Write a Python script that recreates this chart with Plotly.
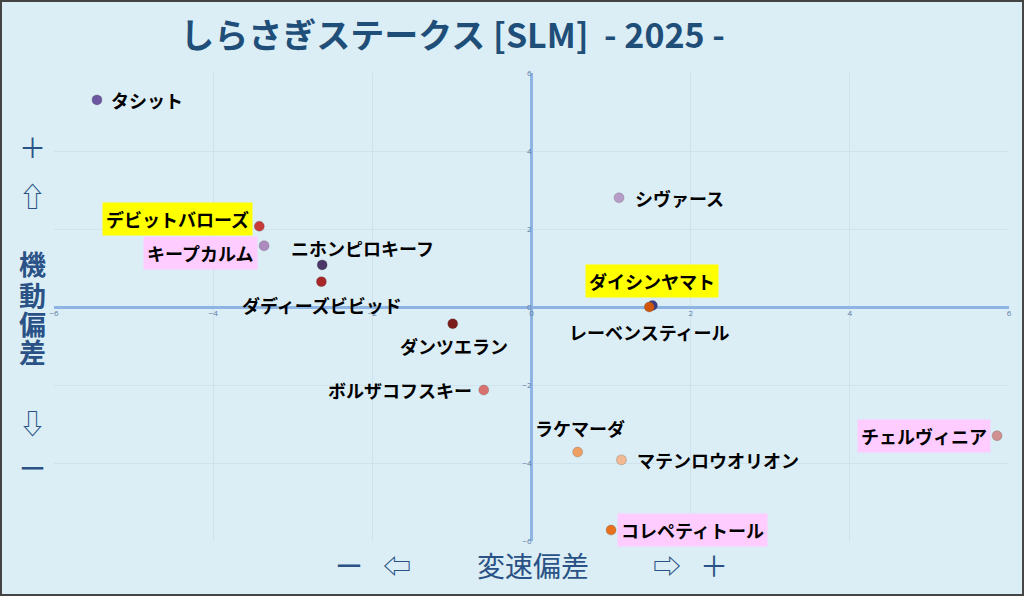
import plotly.graph_objects as go

# 変速偏差 (x) / 機動偏差 (y)
horses = ["タシット", "デビットバローズ", "キープカルム", "ニホンピロキーフ", "ダディーズビビッド",
          "ダンツエラン", "ボルザコフスキー", "シヴァース", "ダイシンヤマト", "レーベンスティール",
          "ラケマーダ", "マテンロウオリオン", "コレペティトール", "チェルヴィニア"]
speed_dev = [-5.46, -3.42, -3.36, -2.63, -2.64, -0.99, -0.60, 1.10, 1.52, 1.48, 0.58, 1.13, 1.00, 5.85]
agility_dev = [5.31, 2.07, 1.57, 1.08, 0.65, -0.43, -2.13, 2.80, 0.04, 0.00, -3.72, -3.92, -5.72, -3.30]
colors = ["#6b56a0", "#c83a3a", "#ad8bbf", "#4b3868", "#a8282a", "#7c1c1c", "#d8726e", "#b89cc8",
          "#3b3c86", "#d0560e", "#eea064", "#f2b891", "#e8711e", "#d0908f"]
label_bg = [None, "#ffff00", "#ffccff", None, None, None, None, None,
            "#ffff00", None, None, None, "#ffccff", "#ffccff"]

# label placement (anchor, xshift px, yshift px)
label_place = [("left", 10, 0), ("right", -6, 7), ("right", -6, -7), ("center", 40, 17),
               ("center", 1, -23), ("center", 1, -22), ("right", -8, 0), ("left", 12, 0),
               ("center", 0, 24), ("center", 0, -25), ("center", 2, 24), ("left", 12, 0),
               ("left", 6, 0), ("right", -6, 0)]

ticks = [-6, -4, -2, 0, 2, 4, 6]

fig = go.Figure()
fig.add_trace(go.Scatter(
    x=speed_dev, y=agility_dev, mode="markers",
    marker=dict(size=10, color=colors, line=dict(width=0.5, color="rgba(80,80,80,0.5)")),
    hoverinfo="text", text=horses, showlegend=False,
))

for name, x, y, (anc, dx, dy), bg in zip(horses, speed_dev, agility_dev, label_place, label_bg):
    fig.add_annotation(x=x, y=y, text=name, showarrow=False,
                       xanchor=anc, yanchor="middle", xshift=dx, yshift=dy,
                       font=dict(family="Noto Sans CJK JP", size=18, color="#000000", weight="bold"),
                       bgcolor=bg if bg else "rgba(0,0,0,0)", borderpad=3)

cap_color = "#2a5286"
# y axis caption pieces (vertical)
for txt, yy, wt in [("＋", 0.842, "normal"), ("⇧", 0.739, "normal"), ("機", 0.594, "bold"),
                    ("動", 0.526, "bold"), ("偏", 0.464, "bold"), ("差", 0.404, "bold"),
                    ("⇩", 0.254, "normal"), ("ー", 0.158, "normal")]:
    fig.add_annotation(xref="paper", yref="paper", x=-0.022, y=yy, text=txt, showarrow=False,
                       font=dict(family="Noto Sans CJK JP", size=27, color=cap_color, weight=wt),
                       xanchor="center", yanchor="middle")
# x axis caption pieces
for txt, xx in [("ー", 0.309), ("⇦", 0.359), ("変速偏差", 0.502), ("⇨", 0.642), ("＋", 0.691)]:
    fig.add_annotation(xref="paper", yref="paper", x=xx, y=-0.051, text=txt, showarrow=False,
                       font=dict(family="Noto Sans CJK JP", size=28, color=cap_color),
                       xanchor="center", yanchor="middle")

fig.update_layout(
    width=1024, height=596,
    margin=dict(l=54, r=15, t=73, b=55),
    paper_bgcolor="#dbeef5", plot_bgcolor="#dbeef5",
    title=dict(text="<b>しらさぎステークス [SLM]  - 2025 -</b>", x=0.442, xanchor="center",
               y=0.94, yanchor="middle",
               font=dict(family="Noto Sans CJK JP", size=34, color="#1f4e79")),
    xaxis=dict(range=[-6, 6], tickvals=ticks, anchor="free", position=0.5,
               showgrid=True, gridcolor="#cfe3ee", gridwidth=1,
               zeroline=True, zerolinecolor="#8db4e2", zerolinewidth=3,
               showline=False, ticks="", tickfont=dict(size=8, color="#5a7aa6")),
    yaxis=dict(range=[-6, 6], tickvals=ticks, anchor="free", position=0.5,
               showgrid=True, gridcolor="#cfe3ee", gridwidth=1,
               zeroline=True, zerolinecolor="#8db4e2", zerolinewidth=3,
               showline=False, ticks="", tickfont=dict(size=8, color="#5a7aa6")),
    shapes=[dict(type="rect", xref="paper", yref="paper", x0=-0.0555, x1=1.0147, y0=-0.1154, y1=1.1538,
                 line=dict(color="#444444", width=2))],
)

fig.write_html("out.html", config={"displayModeBar": False},
               post_script="document.body.style.margin='0';")
